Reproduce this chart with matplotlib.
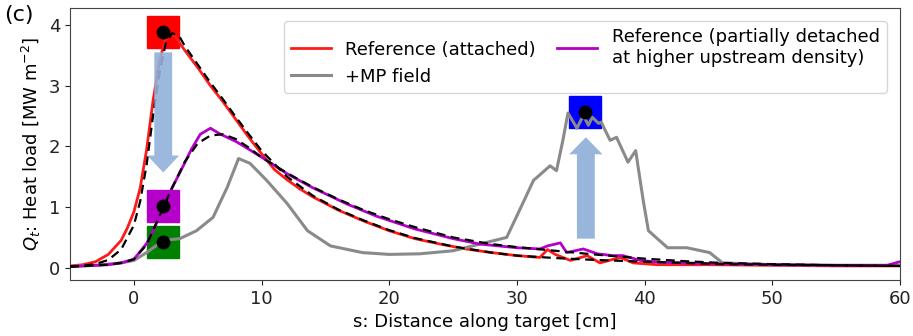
import matplotlib.pyplot as plt
from matplotlib.patches import FancyArrow

# Reference (attached)
s_att = [-5, -4, -3, -2, -1, -0.5, 0, 0.5, 1, 1.5, 2, 2.6, 3.2, 4, 5, 6, 7, 8, 9, 10,
         11, 12, 13, 14, 16, 18, 20, 22, 24, 26, 28, 30, 31.8, 32.4, 33, 34.2, 35.5,
         36.5, 38.1, 39.1, 41, 45, 50, 55, 60]
q_att = [0.03, 0.05, 0.1, 0.22, 0.45, 0.66, 0.92, 1.32, 1.95, 2.75, 3.4, 3.87, 3.82,
         3.58, 3.3, 3.0, 2.73, 2.44, 2.15, 1.88, 1.62, 1.45, 1.3, 1.17, 0.95, 0.77,
         0.61, 0.48, 0.39, 0.31, 0.25, 0.2, 0.17, 0.3, 0.22, 0.12, 0.2, 0.08, 0.17,
         0.08, 0.05, 0.05, 0.04, 0.03, 0.03]

# fit to attached case
s_att_fit = [-5, -4, -3, -2, -1, 0, 0.5, 1, 1.5, 2, 2.5, 3, 3.6, 4, 5, 6, 7, 8, 9, 10,
             12, 14, 16, 18, 20, 22, 25, 28, 30, 33, 36, 40, 43, 46, 50, 55, 60]
q_att_fit = [0.02, 0.03, 0.06, 0.13, 0.3, 0.7, 1.1, 1.7, 2.5, 3.2, 3.7, 3.87, 3.8,
             3.65, 3.35, 3.05, 2.77, 2.48, 2.2, 1.93, 1.5, 1.19, 0.96, 0.78, 0.62, 0.49,
             0.35, 0.25, 0.2, 0.16, 0.13, 0.1, 0.08, 0.06, 0.05, 0.04, 0.03]

# Reference (partially detached)
s_det = [-5, -4, -3, -2, -1, 0, 1, 1.5, 2.3, 3, 3.8, 4.5, 5.2, 6.0, 6.7, 8, 8.8, 10.4,
         12, 14, 16.7, 19, 22, 25, 27.1, 30, 31.8, 32.4, 33.4, 33.9, 35.2, 36.3, 37.5,
         38.3, 39.7, 41.2, 45, 50, 55, 59, 60]
q_det = [0.02, 0.03, 0.04, 0.05, 0.08, 0.14, 0.4, 0.6, 1.0, 1.32, 1.65, 1.95, 2.2,
         2.3, 2.21, 2.08, 1.98, 1.77, 1.55, 1.32, 1.05, 0.85, 0.64, 0.48, 0.39, 0.33,
         0.31, 0.36, 0.41, 0.25, 0.31, 0.23, 0.2, 0.2, 0.12, 0.09, 0.07, 0.05, 0.04,
         0.04, 0.1]

# fit to detached case
s_det_fit = [-5, -4, -3, -2, -1, 0, 1, 2, 3, 4, 5, 6, 7, 8, 9, 10, 12, 14, 16, 18, 20,
             22, 25, 28, 30, 33, 36, 40, 43, 46, 50, 55, 60]
q_det_fit = [0.02, 0.03, 0.04, 0.05, 0.08, 0.14, 0.38, 0.85, 1.32, 1.75, 2.05, 2.18,
             2.2, 2.12, 1.98, 1.82, 1.56, 1.33, 1.13, 0.95, 0.8, 0.67, 0.5, 0.39, 0.34,
             0.28, 0.22, 0.15, 0.11, 0.08, 0.06, 0.04, 0.03]

# +MP field
s_mp = [-5, -3, -1, 0, 1, 2.3, 3.6, 4.9, 6.2, 7.3, 8.2, 9.1, 10.4, 12, 13.6, 15.4,
        17.9, 20, 22.4, 25, 27.1, 29.2, 30.3, 31.3, 32.6, 33.1, 33.6, 34.0, 34.7, 35.2,
        35.6, 35.9, 36.4, 36.6, 37.3, 37.8, 38.7, 39.3, 39.9, 40.3, 41.8, 43.3, 45.1,
        46.1, 50, 55, 60]
q_mp = [0.02, 0.04, 0.08, 0.12, 0.25, 0.45, 0.48, 0.61, 0.83, 1.32, 1.8, 1.72, 1.44,
        1.06, 0.61, 0.36, 0.25, 0.22, 0.23, 0.28, 0.39, 0.5, 0.99, 1.44, 1.68, 1.6, 2.1,
        2.55, 2.3, 2.51, 2.35, 2.48, 2.38, 2.4, 2.1, 2.15, 1.74, 1.93, 1.1, 0.61, 0.33,
        0.33, 0.25, 0.08, 0.05, 0.04, 0.04]

# highlighted points (s, Q, box colour)
mark_s = [2.3, 2.3, 2.3, 35.3]
mark_q = [3.88, 1.01, 0.43, 2.56]
mark_c = ['#ff0000', '#b400c8', '#008000', '#0000ff']

RED = '#ff1a1a'
PURPLE = '#b400c8'
GRAY = '#8a8a8a'
ARROW = '#93b1da'

plt.rcParams['font.family'] = 'DejaVu Sans'
plt.rcParams['font.size'] = 13

fig = plt.figure(figsize=(9.13, 3.36), dpi=100)
ax = fig.add_axes([0.0767, 0.167, 0.909, 0.809])

ax.plot(s_att, q_att, color=RED, lw=2, label='Reference (attached)', zorder=3)
ax.plot(s_mp, q_mp, color=GRAY, lw=2.2, label='+MP field', zorder=3)
ax.plot(s_det, q_det, color=PURPLE, lw=2,
        label='Reference (partially detached\nat higher upstream density)', zorder=3)
ax.plot(s_att_fit, q_att_fit, color='black', lw=1.6, ls=(0, (4, 2.5)), zorder=4)
ax.plot(s_det_fit, q_det_fit, color='black', lw=1.6, ls=(0, (4, 2.5)), zorder=4)

# coloured boxes with a dot in the middle
for s, q, c in zip(mark_s, mark_q, mark_c):
    ax.plot(s, q, marker='s', ms=23, color=c, mec=c, zorder=2)
    ax.plot(s, q, marker='o', ms=9, color='black', zorder=6)

# arrows
ax.add_patch(FancyArrow(2.3, 3.55, 0, -1.98, width=1.4, head_width=2.5,
                        head_length=0.28, length_includes_head=True,
                        color=ARROW, alpha=0.9, lw=0, zorder=5))
ax.add_patch(FancyArrow(35.4, 0.48, 0, 1.67, width=1.4, head_width=2.6,
                        head_length=0.28, length_includes_head=True,
                        color=ARROW, alpha=0.95, lw=0, zorder=5))

ax.set_xlim(-5, 60)
ax.set_ylim(-0.2, 4.28)
ax.set_xticks([0, 10, 20, 30, 40, 50, 60])
ax.set_yticks([0, 1, 2, 3, 4])
ax.set_xlabel('s: Distance along target [cm]')
ax.set_ylabel('$Q_t$: Heat load [MW m$^{-2}$]')
for sp in ax.spines.values():
    sp.set_color('#444444')
ax.tick_params(colors='#222222')

ax.legend(loc='upper right', ncol=2, fontsize=13, handlelength=2.2,
          columnspacing=1.2, borderaxespad=0.5, bbox_to_anchor=(0.995, 0.985))

fig.text(0.005, 0.985, '(c)', fontsize=16, va='top', ha='left')

fig.savefig('out.png', dpi=100)
